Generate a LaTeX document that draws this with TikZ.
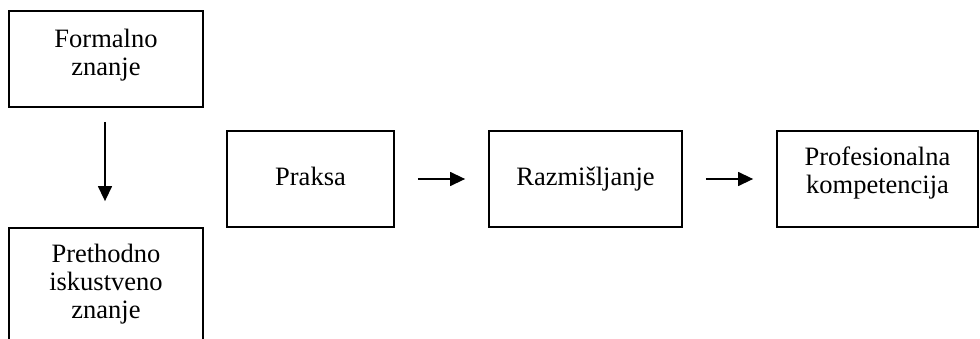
\documentclass[tikz,border=0pt]{standalone}
\usepackage{fontspec}
\setmainfont{Liberation Serif}
\usetikzlibrary{arrows.meta}
\begin{document}
\begin{tikzpicture}[x=1pt,y=-1pt,
  box/.style={draw,line width=1.8pt,rectangle,inner sep=0pt},
  txt/.style={inner sep=0pt,align=center,font=\fontsize{26.5}{28}\selectfont},
  arr/.style={line width=1.4pt,-{Triangle[length=15pt,width=14pt]}}]
\useasboundingbox (0,0) rectangle (980,339);
\begin{scope}
\clip (0,0) rectangle (980,339);
\node[box,minimum width=194pt,minimum height=96pt] (f) at (106,59) {};
\node[box,minimum width=194pt,minimum height=116pt] (p) at (106,286) {};
\node[box,minimum width=167pt,minimum height=96pt] (pr) at (310.5,179) {};
\node[box,minimum width=193pt,minimum height=96pt] (r) at (585.5,179) {};
\node[box,minimum width=201pt,minimum height=96pt] (k) at (877.5,179) {};
\end{scope}
\node[txt] (ft) at (106,55) {Formalno\\znanje};
\node[txt] (pt) at (106,284) {Prethodno\\iskustveno\\znanje};
\node[txt] (prt) at (310.5,176) {Praksa};
\node[txt] (rt) at (585.5,179) {Razmišljanje};
\node[txt] (kt) at (877.5,173) {Profesionalna\\kompetencija};
\draw[arr,shorten <=14pt,shorten >=26pt] ([xshift=-1pt]f.south) -- ([xshift=-1pt]p.north);
\draw[arr,shorten <=23pt,shorten >=23pt] (pr.east) -- (r.west);
\draw[arr,shorten <=23pt,shorten >=23pt] (r.east) -- (k.west);
\end{tikzpicture}
\end{document}
